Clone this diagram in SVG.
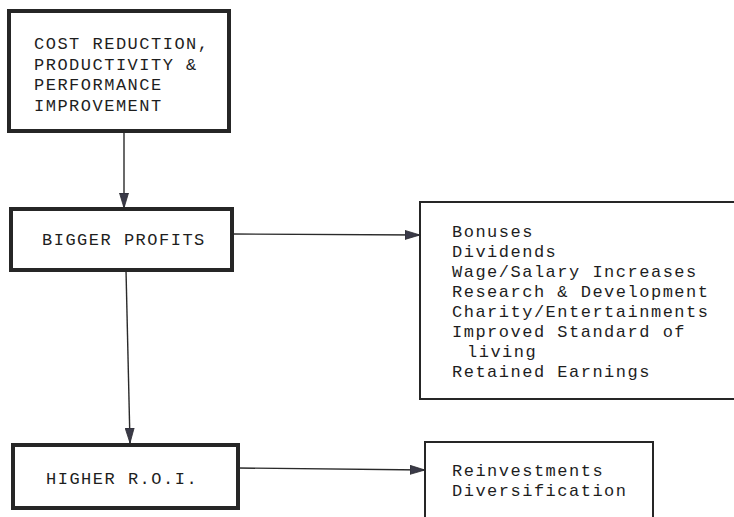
<svg xmlns="http://www.w3.org/2000/svg" width="734" height="517" viewBox="0 0 734 517">
  <defs>
    <marker id="ah" markerUnits="userSpaceOnUse" markerWidth="16" markerHeight="10" refX="15" refY="5" orient="auto">
      <path d="M0,0.5 L15,5 L0,9.5 Z" fill="#3a3a48" stroke="#2a2a30" stroke-width="0.8"/>
    </marker>
    <style>
      .thick { fill: #fff; stroke: #262626; stroke-width: 4; }
      .thin { fill: #fff; stroke: #262626; stroke-width: 2; }
      .t { font-family: "Liberation Mono", "DejaVu Sans Mono", monospace; font-size: 17px; letter-spacing: 1.5px; fill: #1e1e1e; }
      .c { fill: none; stroke: #2a2a2a; stroke-width: 1.4; }
    </style>
  </defs>
  <rect width="734" height="517" fill="#fff"/>

  <g id="connectors">
    <line class="c" x1="124" y1="131" x2="124" y2="208" marker-end="url(#ah)"/>
    <line class="c" x1="126" y1="270" x2="130" y2="443" marker-end="url(#ah)"/>
    <line class="c" x1="232" y1="234" x2="420" y2="235" marker-end="url(#ah)"/>
    <line class="c" x1="238" y1="468" x2="425" y2="470" marker-end="url(#ah)"/>
  </g>

  <g id="cost-reduction">
    <rect class="thick" x="9" y="11" width="220" height="120"/>
    <text class="t" x="34" y="49">COST REDUCTION,</text>
    <text class="t" x="34" y="70">PRODUCTIVITY &amp;</text>
    <text class="t" x="34" y="90">PERFORMANCE</text>
    <text class="t" x="34" y="111">IMPROVEMENT</text>
  </g>

  <g id="bigger-profits">
    <rect class="thick" x="11" y="209" width="221" height="61"/>
    <text class="t" x="42" y="245">BIGGER PROFITS</text>
  </g>

  <g id="profit-uses">
    <rect class="thin" x="420" y="202" width="316" height="197"/>
    <text class="t" x="452" y="237">Bonuses</text>
    <text class="t" x="452" y="257">Dividends</text>
    <text class="t" x="452" y="277">Wage/Salary Increases</text>
    <text class="t" x="452" y="297">Research &amp; Development</text>
    <text class="t" x="452" y="317">Charity/Entertainments</text>
    <text class="t" x="452" y="337">Improved Standard of</text>
    <text class="t" x="467" y="357">living</text>
    <text class="t" x="452" y="377">Retained Earnings</text>
  </g>

  <g id="higher-roi">
    <rect class="thick" x="13" y="445" width="225" height="63"/>
    <text class="t" x="46" y="484">HIGHER R.O.I.</text>
  </g>

  <g id="roi-uses">
    <rect class="thin" x="425" y="442" width="228" height="100"/>
    <text class="t" x="452" y="476">Reinvestments</text>
    <text class="t" x="452" y="496">Diversification</text>
  </g>
</svg>
